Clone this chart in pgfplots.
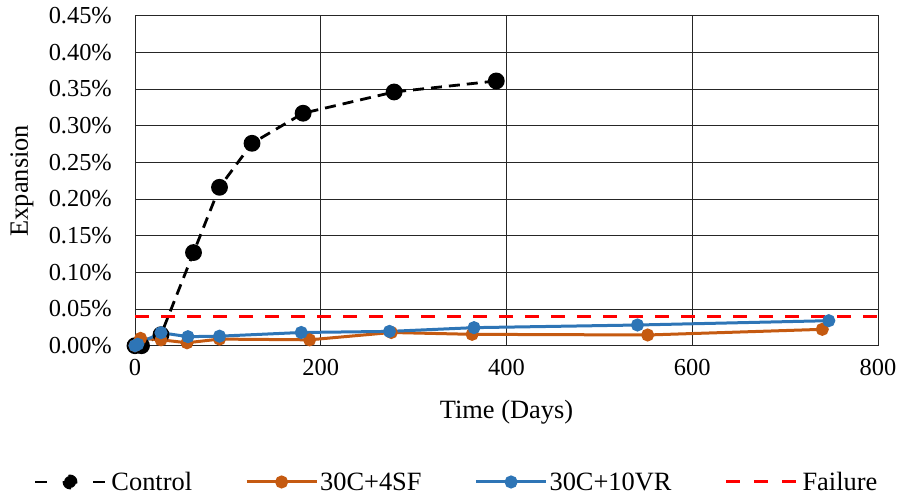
\documentclass[border=0pt]{standalone}
\usepackage{pgfplots}
\pgfplotsset{compat=1.18}
\usepackage{fontspec}
\setmainfont{Liberation Serif}
\definecolor{corange}{RGB}{197,90,17}
\definecolor{cblue}{RGB}{46,117,182}
\begin{document}
\begin{tikzpicture}
\begin{axis}[
  name=ax,
  scale only axis,
  width=743bp, height=330bp,
  xmin=0, xmax=800, ymin=0, ymax=0.45,
  xtick={0,200,400,600,800},
  ytick={0,0.05,0.10,0.15,0.20,0.25,0.30,0.35,0.40,0.45},
  major tick length=0pt,
  xmajorgrids, ymajorgrids,
  grid style={black!85, line width=0.8bp},
  axis line style={black!85, line width=0.8bp},
  /pgf/number format/assume math mode=true,
  yticklabel={\pgfmathprintnumber[fixed,fixed zerofill,precision=2]{\tick}\%},
  xticklabel={\pgfmathprintnumber[fixed,precision=0]{\tick}},
  scaled y ticks=false,
  every tick label/.append style={font=\fontsize{24.5}{28}\selectfont, inner sep=0pt},
  yticklabel style={anchor=east, xshift=-23bp},
  xticklabel style={anchor=north, yshift=-13bp},
  xlabel={Time (Days)},
  ylabel={Expansion},
  label style={font=\fontsize{26.5}{30}\selectfont},
  xlabel style={at={(axis description cs:0.5,-0.2)}, anchor=center},
  ylabel style={at={(axis description cs:-0.152,0.5)}, anchor=center, rotate=0},
  legend columns=4,
  legend style={draw=none, fill=none, at={(axis description cs:0.4327,-0.413)}, anchor=center,
    font=\fontsize{26.5}{30}\selectfont, inner sep=0pt,
    /tikz/every even column/.append style={column sep=51bp}},
  legend image code/.code={\draw[mark repeat=2,mark phase=2,#1] plot coordinates {(0bp,0bp) (35bp,0bp) (70bp,0bp)};},
  clip=false,
]
\addplot[black, line width=2.8bp, dash pattern=on 11bp off 7bp, mark=*, mark size=7bp, mark options={solid},
  legend image code/.code={\draw[black,line width=2.8bp,dash pattern=on 12bp off 46bp] (0bp,0bp)--(70bp,0bp); \fill[black] (35bp,0bp) circle (6bp); \path (73bp,0bp);}]
  coordinates {(0,0) (7,0.0) (28,0.015) (63,0.127) (91,0.216) (126,0.276) (181,0.317) (279,0.346) (389,0.361)};
\addlegendentry{Control}
\addplot[corange, line width=3bp, mark=*, mark size=5bp]
  coordinates {(0,0.0) (6,0.010) (28,0.008) (56,0.004) (91,0.009) (188,0.008) (276,0.018) (363,0.0155) (552,0.0146) (740,0.0223)};
\addlegendentry{30C+4SF}
\addplot[cblue, line width=3bp, mark=*, mark size=5bp]
  coordinates {(0,0.0) (3,0.002) (28,0.0177) (57,0.0123) (91,0.013) (179,0.018) (274,0.0195) (365,0.0246) (541,0.0282) (747,0.0341)};
\addlegendentry{30C+10VR}
\addplot[red, line width=3bp, dash pattern=on 14bp off 12bp,
  legend image code/.code={\draw[red,line width=3bp,dash pattern=on 14bp off 14bp] (0bp,0bp)--(70bp,0bp); \path (73bp,0bp);}]
  coordinates {(0,0.04) (800,0.04)};
\addlegendentry{Failure}
\end{axis}
\pgfresetboundingbox
\path ([shift={(-135bp,-151.3bp)}]ax.south west) rectangle ([shift={(21bp,15.7bp)}]ax.north east);
\end{tikzpicture}
\end{document}
